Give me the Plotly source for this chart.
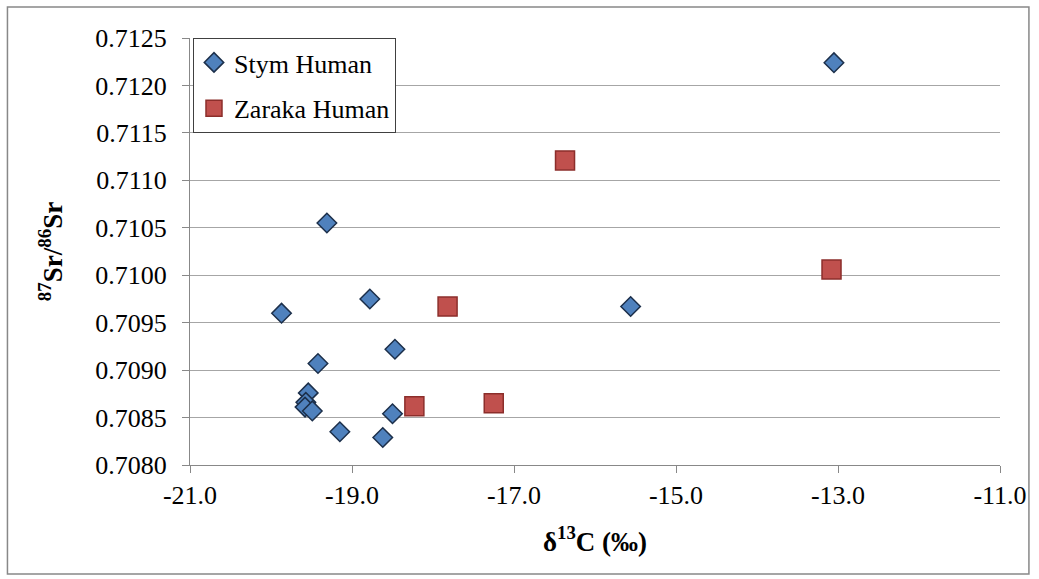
import plotly.graph_objects as go

stym_x = [-13.05, -19.87, -18.78, -18.47, -19.42, -19.54, -19.57, -19.58, -19.49, -19.15, -18.62, -18.50, -19.31, -15.56]
stym_y = [0.71224, 0.70960, 0.70975, 0.70922, 0.70907, 0.70876, 0.70866, 0.70861, 0.70857, 0.70835, 0.70829, 0.70854, 0.71055, 0.70967]

zaraka_x = [-17.82, -18.23, -17.25, -16.37, -13.08]
zaraka_y = [0.70967, 0.70862, 0.70865, 0.71121, 0.71006]

x_ticks = [-21.0, -19.0, -17.0, -15.0, -13.0, -11.0]
y_ticks = [0.7080, 0.7085, 0.7090, 0.7095, 0.7100, 0.7105, 0.7110, 0.7115, 0.7120, 0.7125]

FONT = "Liberation Serif"

fig = go.Figure()
fig.add_trace(go.Scatter(
    x=stym_x, y=stym_y, mode="markers", name="Stym Human", legendgroup="a",
    marker=dict(symbol="diamond", size=15, color="#4F81BD",
                line=dict(color="#1C2F4A", width=1.5)),
))
fig.add_trace(go.Scatter(
    x=zaraka_x, y=zaraka_y, mode="markers", name="Zaraka Human", legendgroup="b",
    marker=dict(symbol="square", size=19, color="#C0504D",
                line=dict(color="#8C2E2B", width=1.5)),
))

W, H = 1039, 579
L, R, T, B = 190, 37, 38, 114
pw = W - L - R
ph = H - T - B

def px_x(p):
    return (p - L) / pw

def px_y(p):
    return (H - B - p) / ph

fig.update_layout(
    width=W, height=H,
    margin=dict(l=L, r=R, t=T, b=B),
    paper_bgcolor="white", plot_bgcolor="white",
    font=dict(family=FONT, size=26, color="black"),
    showlegend=True,
    legend=dict(
        x=px_x(193), y=1, xanchor="left", yanchor="top",
        bgcolor="white", bordercolor="#404040", borderwidth=1,
        font=dict(family=FONT, size=26, color="black"),
        tracegroupgap=9, itemwidth=30,
    ),
    xaxis=dict(
        range=[-21, -11], tickvals=x_ticks,
        ticktext=[f"{v:.1f}" for v in x_ticks],
        showgrid=False, zeroline=False,
        showline=True, linecolor="#888888", linewidth=1,
        ticks="outside", ticklen=7, tickcolor="#888888",
        tickfont=dict(family=FONT, size=26, color="black"),
        title=dict(text="<b>δ<sup>13</sup>C (‰)</b>", font=dict(family=FONT, size=27, color="black"), standoff=22),
    ),
    yaxis=dict(
        range=[0.7080, 0.7125], tickvals=y_ticks,
        ticktext=[f"{v:.4f}" for v in y_ticks],
        showgrid=True, gridcolor="#A6A6A6", gridwidth=1.3, zeroline=False,
        showline=True, linecolor="#888888", linewidth=1,
        ticks="outside", ticklen=7, tickcolor="#888888", ticklabelstandoff=10,
        tickfont=dict(family=FONT, size=26, color="black"),
        title=dict(text="<b><sup>87</sup>Sr/<sup>86</sup>Sr</b>", font=dict(family=FONT, size=27, color="black"), standoff=24),
    ),
    shapes=[dict(
        type="rect", xref="paper", yref="paper",
        x0=px_x(7), x1=px_x(1031), y0=px_y(574), y1=px_y(7),
        line=dict(color="#888888", width=1.5), fillcolor="rgba(0,0,0,0)", layer="below",
    )],
)

fig.write_html("out.html")
